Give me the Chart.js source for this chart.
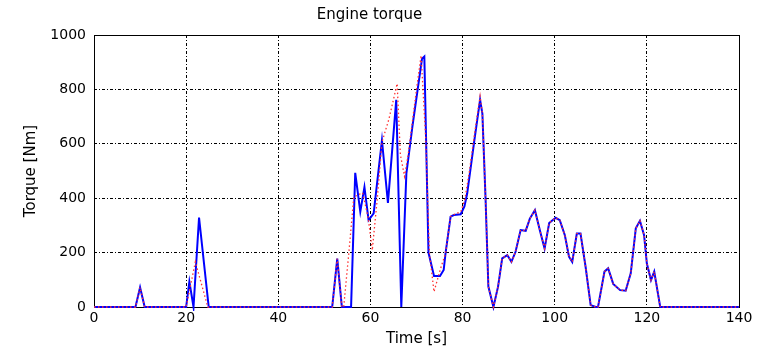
<!DOCTYPE html>
<html>
<head>
<meta charset="utf-8">
<title>Engine torque</title>
<script src="https://cdn.jsdelivr.net/npm/chart.js@4"></script>
<style>
    html, body { margin: 0; padding: 0; background: #fff; }
    canvas { display: block; }
</style>
</head>
<body>
<canvas id="grafico" width="765" height="353"></canvas>
<script>
// Tempo [s] e torque [Nm]
const tempoSim = [0, 9, 10, 11, 20, 20.7, 21.6, 22.8, 24.9, 51.7, 52.8, 53.8, 55.8, 56.7, 57.8, 58.7,
    59.6, 60.7, 62.5, 63.8, 65.6, 66.7, 67.8, 69.1, 71.2, 71.7, 72.6, 73.8, 75.1, 75.9, 76.3, 77.4,
    78.1, 79.6, 80.4, 81.0, 82.5, 83.8, 84.3, 85.0, 85.6, 86.7, 87.7, 88.6, 89.7, 90.6, 91.5, 92.6,
    93.7, 94.6, 95.7, 96.8, 97.8, 98.8, 100.2, 101.1, 102.2, 103.1, 103.8, 104.8, 105.6, 106.7, 107.8,
    108.9, 109.4, 110.8, 111.6, 112.7, 114.2, 115.4, 116.5, 117.6, 118.5, 119.4, 120.0, 120.9, 121.6,
    122.9, 140];
const torqueSim = [0, 0, 72, 0, 0, 93, 0, 329, 0, 0, 178, 0, 0, 493, 350, 441,
    319, 344, 613, 383, 762, 0, 490, 662, 913, 921, 200, 114, 114, 136, 197, 332,
    338, 341, 370, 417, 605, 762, 711, 393, 75, 0, 75, 179, 191, 166, 203, 283,
    280, 325, 356, 280, 215, 309, 328, 319, 264, 185, 166, 270, 270, 148, 7,
    0, 0, 130, 142, 85, 62, 60, 124, 289, 317, 264, 160, 99, 130,
    0, 0];

const tempoRef = [0, 9, 10, 11, 20, 22, 24.7, 51.7, 52.8, 53.8, 54.2, 55.3, 56.4, 58.3, 59.5, 60.4,
    61.5, 62.5, 64.0, 65.8, 66.5, 67.4, 68.2, 69.1, 70.0, 71.0, 72.0, 72.8, 73.8, 75.2, 76.3, 77.4,
    78.1, 79.6, 80.5, 81.5, 82.5, 83.8, 84.3, 85.0, 85.6, 86.7, 87.7, 88.6, 89.7, 90.6, 91.5, 92.6,
    93.7, 94.6, 95.7, 96.8, 97.8, 98.8, 100.2, 101.1, 102.2, 103.1, 103.8, 104.8, 105.6, 106.7, 107.8,
    108.9, 109.4, 110.8, 111.6, 112.7, 114.2, 115.4, 116.5, 117.6, 118.5, 119.4, 120.0, 120.9, 121.6,
    122.9, 140];
const torqueRef = [0, 0, 72, 0, 0, 166, 0, 0, 178, 0, 0, 197, 405, 420, 330, 209,
    400, 606, 690, 821, 560, 480, 560, 680, 800, 925, 620, 200, 56, 140, 197, 332,
    340, 350, 395, 500, 625, 775, 711, 393, 75, 0, 75, 179, 191, 166, 203, 283,
    280, 325, 356, 280, 215, 309, 328, 319, 264, 185, 166, 270, 270, 148, 7,
    0, 0, 130, 142, 85, 62, 60, 124, 289, 317, 264, 160, 99, 130,
    0, 0];

const ticksX = [0, 20, 40, 60, 80, 100, 120, 140];
const ticksY = [0, 200, 400, 600, 800, 1000];

const fonte = 'DejaVu Sans';

// Contorno preto da área do gráfico (estilo MATLAB)
const moldura = {
    id: 'moldura',
    beforeDatasetsDraw(chart) {
        const { ctx, chartArea: a } = chart;
        ctx.save();
        ctx.strokeStyle = '#000';
        ctx.lineWidth = 1;
        ctx.setLineDash([]);
        ctx.strokeRect(a.left + 0.5, a.top + 0.5, a.right - a.left, a.bottom - a.top);
        ctx.restore();
    }
};

const pontos = (xs, ys) => xs.map((x, i) => ({ x: x, y: ys[i] }));

// linhas de grade nos extremos ficam a cargo da moldura
const corGrade = (ctx, extremos) => extremos.includes(ctx.tick.value) ? 'rgba(0,0,0,0)' : '#000';

new Chart(document.getElementById('grafico'), {
    type: 'line',
    data: {
        datasets: [
            {
                label: 'Referência',
                data: pontos(tempoRef, torqueRef),
                borderColor: '#ff3030',
                borderWidth: 1.3,
                borderDash: [1.5, 2.5],
                pointRadius: 0,
                tension: 0,
                fill: false,
                clip: 4
            },
            {
                label: 'Simulado',
                data: pontos(tempoSim, torqueSim),
                borderColor: '#0000ff',
                borderWidth: 2,
                pointRadius: 0,
                tension: 0,
                fill: false,
                clip: 4
            }
        ]
    },
    options: {
        responsive: false,
        animation: false,
        devicePixelRatio: 1,
        layout: { padding: { left: 0, right: 26, top: 0, bottom: 0 } },
        plugins: {
            legend: { display: false },
            tooltip: { enabled: false },
            title: {
                display: true,
                text: 'Engine torque',
                color: '#000',
                font: { family: fonte, size: 15, weight: 'normal' },
                padding: { top: 6, bottom: 11 }
            }
        },
        scales: {
            x: {
                type: 'linear',
                min: 0,
                max: 140,
                afterBuildTicks: s => { s.ticks = ticksX.map(v => ({ value: v })); },
                afterFit: s => { s.height = 46; },
                border: { display: false, dash: [3, 2, 1, 2] },
                grid: {
                    color: c => corGrade(c, [0, 140]),
                    lineWidth: 1,
                    drawTicks: false
                },
                ticks: {
                    color: '#000',
                    padding: 3,
                    maxRotation: 0,
                    font: { family: fonte, size: 14 },
                    callback: v => String(v)
                },
                title: {
                    display: true,
                    text: 'Time [s]',
                    color: '#000',
                    font: { family: fonte, size: 15 },
                    padding: { top: 0, bottom: 5 }
                }
            },
            y: {
                type: 'linear',
                min: 0,
                max: 1000,
                afterBuildTicks: s => { s.ticks = ticksY.map(v => ({ value: v })); },
                afterFit: s => { s.width = 94; },
                border: { display: false, dash: [3, 2, 1, 2] },
                grid: {
                    color: c => corGrade(c, [0, 1000]),
                    lineWidth: 1,
                    drawTicks: false
                },
                ticks: {
                    color: '#000',
                    padding: 8,
                    font: { family: fonte, size: 14 },
                    callback: v => String(v)
                },
                title: {
                    display: true,
                    text: 'Torque [Nm]',
                    color: '#000',
                    font: { family: fonte, size: 15 },
                    padding: { top: 22, bottom: 0 }
                }
            }
        }
    },
    plugins: [moldura]
});
</script>
</body>
</html>
